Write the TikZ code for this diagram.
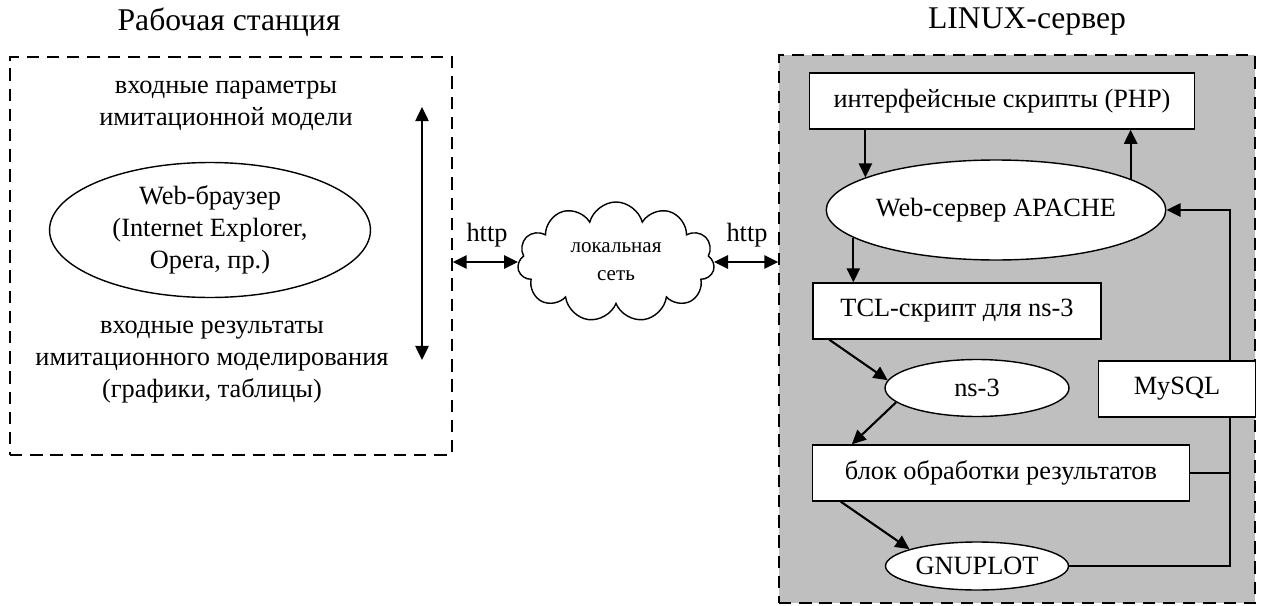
\documentclass[tikz,border=0pt]{standalone}
\usepackage{fontspec}
\setmainfont{Liberation Serif}
\usetikzlibrary{shapes.geometric, shapes.symbols, arrows.meta, positioning, calc}

\tikzset{
  frame/.style={draw, line width=0.8pt, dash pattern=on 7pt off 4.5pt, inner sep=0pt},
  blk/.style={draw, fill=white, line width=0.8pt, minimum height=1.12cm, inner sep=2pt},
  oval/.style={draw, fill=white, ellipse, line width=0.8pt, inner sep=0pt},
  arr/.style={-{Triangle[length=8pt,width=7.5pt]}, line width=1.2pt},
  darr/.style={{Triangle[length=8pt,width=7.5pt]}-{Triangle[length=8pt,width=7.5pt]}, line width=1.2pt},
  ttl/.style={font=\fontsize{18}{22}\selectfont},
}

\begin{document}
\begin{tikzpicture}[x=0.02cm, y=-0.02cm, font=\fontsize{15}{18.2}\selectfont]
\useasboundingbox (0,0) rectangle (1264,605);

% Workstation
\node[ttl] (wst) at (229,22) {Рабочая станция};
\node[frame, minimum width=8.84cm, minimum height=7.96cm] (ws) at (231,256) {};
\node[align=center] (inp) at (226,106) {входные параметры\\имитационной модели};
\node[oval, align=center, minimum width=6.42cm, minimum height=2.7cm] (brw) at (210,230)
  {Web-браузер\\(Internet Explorer,\\Opera, пр.)};
\node[align=center] (outp) at (212,362) {входные результаты\\имитационного моделирования\\(графики, таблицы)};
\coordinate (up) at (422,107);
\coordinate (dn) at (422,360);
\draw[darr] (up) -- (dn);

% Network
\node[cloud, draw, fill=white, line width=0.8pt, cloud puffs=11, aspect=1.7,
  minimum width=3.94cm, minimum height=2.4cm, align=center,
  font=\fontsize{12}{16}\selectfont] (net) at (616,262) {локальная\\сеть};
\node (h1) at (487,235) {http};
\node (h2) at (747,235) {http};

% Server
\node[ttl] (srvt) at (1027,22) {LINUX-сервер};
\node[frame, fill=black!25, minimum width=9.52cm, minimum height=10.96cm] (srv) at (1017,329) {};
\draw[darr] (net.west -| ws.east) -- (net.west);
\draw[darr] (net.east) -- (net.east -| srv.west);

\node[blk, minimum width=7.7cm] (php) at (1002,101) {интерфейсные скрипты (PHP)};
\node[oval, minimum width=6.16cm, minimum height=2cm] (apache) at (996,210) {Web-сервер APACHE};
\node[blk, minimum width=5.76cm] (tcl) at (957,311) {TCL-скрипт для ns-3};
\node[oval, minimum width=3.68cm, minimum height=1.14cm] (ns) at (977,388) {ns-3};
\node[blk, minimum width=3.14cm] (sql) at (1177,389) {MySQL};
\node[blk, minimum width=7.54cm] (res) at (1001,473) {блок обработки результатов};
\node[oval, minimum width=3.66cm, minimum height=0.96cm] (gnu) at (977,566) {GNUPLOT};
\coordinate (bus) at (1230,210);

\draw[arr] (apache.166 |- php.south) -- (apache.166);
\draw[arr] (apache.13) -- (apache.13 |- php.south);
\draw[arr] (apache.191) -- (apache.191 |- tcl.north);
\draw[arr] ([xshift=0.34cm]tcl.south west) -- (ns.175);
\draw[arr] (ns.190) -- ([xshift=0.8cm]res.north west);
\draw[arr] ([xshift=0.58cm]res.south west) -- (gnu.166);

\draw[arr] (sql.north -| bus) |- (apache.east);
\draw[line width=0.8pt] (sql.south -| bus) |- (gnu.east);
\draw[line width=0.8pt] (res.east) -- (res.east -| bus);
\end{tikzpicture}
\end{document}
